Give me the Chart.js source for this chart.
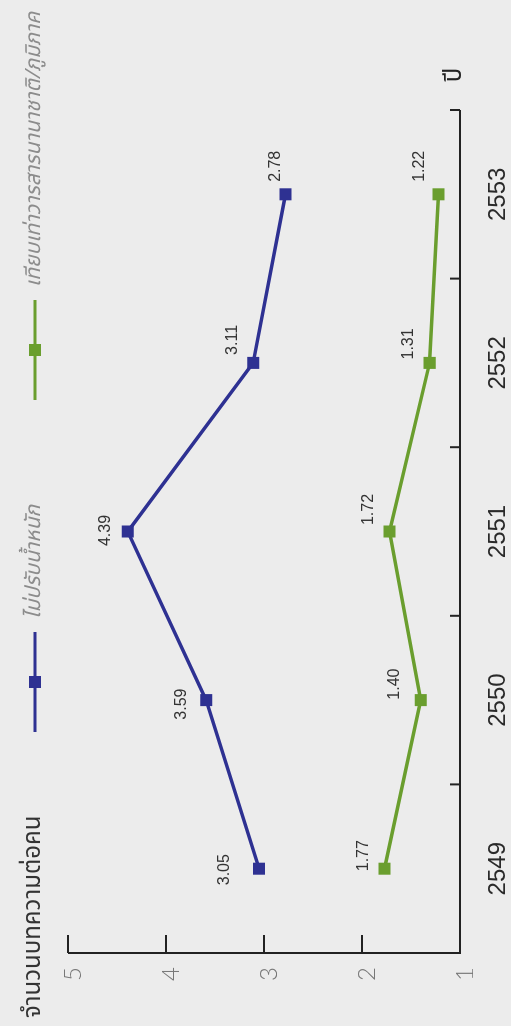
<!DOCTYPE html>
<html><head><meta charset="utf-8">
<script src="https://cdn.jsdelivr.net/npm/chart.js@4"></script>
<style>
html,body{margin:0;padding:0;background:#ececec;overflow:hidden;width:511px;height:1026px;}
#wrap{position:absolute;left:0;top:0;width:1026px;height:511px;transform-origin:0 0;transform:translate(0,1026px) rotate(-90deg);}
canvas{display:block;}
</style></head><body>
<div id="wrap"><canvas id="c" width="1026" height="511"></canvas></div>
<script>
// ---- data ----
const years = ['2549', '2550', '2551', '2552', '2553'];
const unweighted = [3.05, 3.59, 4.39, 3.11, 2.78];
const equivalent = [1.77, 1.40, 1.72, 1.31, 1.22];
const yTickValues = [1, 2, 3, 4, 5];
const seriesNames = ['ไม่ปรับน้ำหนัก', 'เทียบเท่าวารสารนานาชาติ/ภูมิภาค'];
const chartTitle = 'จำนวนบทความต่อคน';
const xAxisTitle = 'ปี';

const BLUE = '#2e3192';
const GREEN = '#6a9e2e';
const THAI = "'Noto Sans Thai','Noto Sans','DejaVu Sans',sans-serif";
const NUM = "'Liberation Sans',Arial,sans-serif";

// label offsets (dx, dy) relative to each point
const labelOffsets = [
  [[-1,-35],[-4,-25],[1,-22],[23,-21],[28,-10]],
  [[13,-21],[16,-26],[22,-21],[19,-21],[28,-19]]
];

const decor = {
  id: 'decor',
  afterDraw(chart) {
    const ctx = chart.ctx;
    const ca = chart.chartArea;
    const xs = chart.scales.x, ys = chart.scales.y;
    ctx.save();
    // axes
    ctx.strokeStyle = '#222';
    ctx.lineWidth = 2;
    ctx.lineCap = 'butt';
    const yTop = ys.getPixelForValue(yTickValues[yTickValues.length - 1]);
    const yBot = ys.getPixelForValue(yTickValues[0]);
    ctx.beginPath();
    ctx.moveTo(ca.left, yTop); ctx.lineTo(ca.left, yBot + 1);
    ctx.moveTo(ca.left - 1, ca.bottom); ctx.lineTo(ca.right, ca.bottom);
    ctx.stroke();
    // y ticks (inward)
    ctx.beginPath();
    yTickValues.forEach(v => {
      const p = ys.getPixelForValue(v);
      ctx.moveTo(ca.left, p); ctx.lineTo(ca.left + 18, p);
    });
    // x ticks at category boundaries (inward)
    for (let i = 0; i <= years.length; i++) {
      const p = xs.getPixelForValue(i - 0.5);
      ctx.moveTo(p, ca.bottom); ctx.lineTo(p, ca.bottom - 10);
    }
    ctx.stroke();
    // x axis title
    ctx.fillStyle = '#222';
    ctx.font = '24px ' + THAI;
    ctx.textAlign = 'center';
    ctx.textBaseline = 'alphabetic';
    ctx.fillText(xAxisTitle, ca.right + 35, ca.bottom + 1);
    // chart title
    ctx.fillStyle = '#333';
    ctx.font = '24px ' + THAI;
    ctx.textAlign = 'left';
    ctx.fillText(chartTitle, 8, 40);
    // legend
    const legendX = [294, 626];
    chart.data.datasets.forEach((ds, i) => {
      const x0 = legendX[i], yc = 35;
      ctx.strokeStyle = ds.borderColor;
      ctx.lineWidth = 3;
      ctx.beginPath(); ctx.moveTo(x0, yc); ctx.lineTo(x0 + 100, yc); ctx.stroke();
      ctx.fillStyle = ds.borderColor;
      ctx.fillRect(x0 + 50 - 6, yc - 6, 12, 12);
      ctx.fillStyle = '#8c8c8c';
      ctx.font = 'italic 21px ' + THAI;
      ctx.textAlign = 'left';
      ctx.fillText(ds.label, x0 + 113, 40);
    });
    // data labels
    ctx.fillStyle = '#333';
    ctx.font = '16px ' + NUM;
    ctx.textAlign = 'center';
    ctx.textBaseline = 'middle';
    chart.data.datasets.forEach((ds, i) => {
      const meta = chart.getDatasetMeta(i);
      meta.data.forEach((pt, j) => {
        const o = labelOffsets[i][j];
        ctx.fillText(ds.data[j].toFixed(2), pt.x + o[0], pt.y + o[1]);
      });
    });
    ctx.restore();
  }
};

new Chart(document.getElementById('c'), {
  type: 'line',
  data: {
    labels: years,
    datasets: [
      { label: seriesNames[0], data: unweighted, borderColor: BLUE, backgroundColor: BLUE,
        borderWidth: 3.5, pointStyle: 'rect', pointRadius: 8.5, pointBorderWidth: 0, tension: 0 },
      { label: seriesNames[1], data: equivalent, borderColor: GREEN, backgroundColor: GREEN,
        borderWidth: 3.5, pointStyle: 'rect', pointRadius: 8.5, pointBorderWidth: 0, tension: 0 }
    ]
  },
  options: {
    responsive: false,
    animation: false,
    devicePixelRatio: 1,
    layout: { padding: { left: 0, top: 68, right: 110, bottom: 0 } },
    plugins: { legend: { display: false }, title: { display: false }, tooltip: { enabled: false } },
    scales: {
      x: {
        type: 'category', offset: true,
        grid: { display: false, drawTicks: false, offset: true },
        border: { display: false },
        ticks: { color: '#2a2a2a', font: { family: NUM, size: 24 }, padding: 24, maxRotation: 0, autoSkip: false },
        afterFit(s) { s.height = 51; }
      },
      y: {
        min: 1, max: 5,
        grid: { display: false, drawTicks: false },
        border: { display: false },
        ticks: { stepSize: 1, color: '#777', font: { family: "'Lato',sans-serif", size: 24, weight: 300 }, padding: 14, labelOffset: 5 },
        afterFit(s) { s.width = 73; }
      }
    }
  },
  plugins: [decor]
});
</script>
</body></html>
